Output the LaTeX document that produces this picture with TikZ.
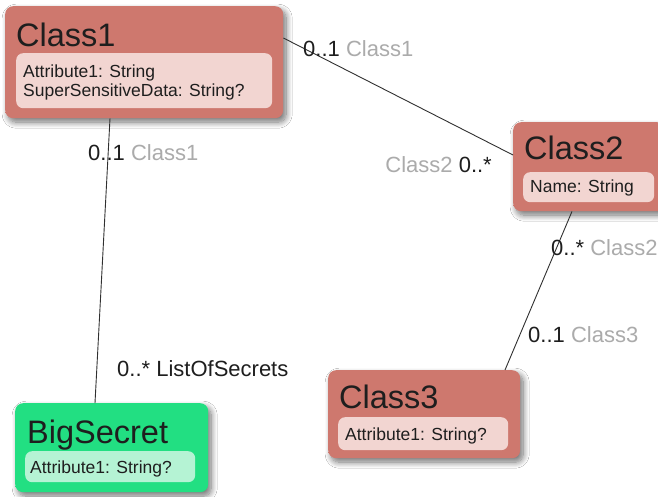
\documentclass[tikz,border=0pt]{standalone}
\usepackage{fontspec}
\setmainfont{Liberation Sans}
\usetikzlibrary{calc,shadows.blur}

\definecolor{clsred}{HTML}{CE786E}
\definecolor{clsredtop}{HTML}{F2A59B}
\definecolor{attrred}{HTML}{F2D5D1}
\definecolor{clsgreen}{HTML}{22DF82}
\definecolor{clsgreentop}{HTML}{45FFA5}
\definecolor{attrgreen}{HTML}{B5F3D4}
\definecolor{ink}{HTML}{1E1E1E}
\definecolor{rolegray}{HTML}{ABABAB}
\definecolor{linegray}{HTML}{303030}

% lighter rim along the top edge of a class box
\pgfdeclareverticalshading{redshade}{100bp}{color(0bp)=(clsred); color(93bp)=(clsred); color(100bp)=(clsredtop)}
\pgfdeclareverticalshading{greenshade}{100bp}{color(0bp)=(clsgreen); color(93bp)=(clsgreen); color(100bp)=(clsgreentop)}

\tikzset{
  box/.style={rectangle, draw=none, rounded corners=8pt, anchor=north west, inner sep=0pt,
    blur shadow={shadow xshift=3pt, shadow yshift=-4pt, shadow blur radius=6pt,
                 shadow blur steps=12, shadow opacity=55}},
  redbox/.style={box, shading=redshade},
  greenbox/.style={box, shading=greenshade},
  attrbox/.style={rectangle, rounded corners=7pt, anchor=north west, inner sep=0pt},
  redattr/.style={attrbox, fill=attrred},
  greenattr/.style={attrbox, fill=attrgreen},
  title/.style={anchor=base west, inner sep=0pt, font=\fontsize{32.5}{32.5}\selectfont, text=ink},
  attr/.style={anchor=base west, inner sep=0pt, font=\fontsize{17.5}{17.5}\selectfont, text=ink},
  mult/.style={inner sep=0pt, font=\fontsize{22}{22}\selectfont, text=ink},
  assoc/.style={draw=linegray, line width=0.9pt},
}

\begin{document}
\begin{tikzpicture}[x=1pt,y=-1pt]
\clip (0,0) rectangle (658,497);
\fill[white] (0,0) rectangle (658,497);

% Class1
\node[redbox, minimum width=278pt, minimum height=112pt] (c1) at (5,6) {};
\node[title] (c1t) at (16,47) {Class1};
\node[redattr, minimum width=256pt, minimum height=55pt] (c1a) at (16,53) {};
\node[attr] (c1x) at (23,78) {Attribute1: String};
\node[attr] (c1y) at (23,97) {SuperSensitiveData: String?};

% Class2
\node[redbox, minimum width=152pt, minimum height=89pt] (c2) at (513,122) {};
\node[title] (c2t) at (524,160) {Class2};
\node[redattr, minimum width=131pt, minimum height=30pt] (c2a) at (523,172) {};
\node[attr] (c2x) at (530,193) {Name: String};

% Class3
\node[redbox, minimum width=192pt, minimum height=88pt] (c3) at (328,370) {};
\node[title] (c3t) at (339,408) {Class3};
\node[redattr, minimum width=170pt, minimum height=33pt] (c3a) at (338,417) {};
\node[attr] (c3x) at (345,440) {Attribute1: String?};

% BigSecret
\node[greenbox, minimum width=193pt, minimum height=89pt] (bs) at (15,403) {};
\node[title] (bst) at (27,443) {BigSecret};
\node[greenattr, minimum width=170pt, minimum height=31pt] (bsa) at (25,451) {};
\node[attr] (bsx) at (30,473) {Attribute1: String?};

% associations
\draw[assoc] ($(c1.north east)+(0,32)$) -- ($(c2.north west)+(0,33)$);
\draw[assoc] ($(c1.south west)+(105,0)$) -- ($(bs.north west)+(80,0)$);
\draw[assoc] ($(c2.south west)+(59,0)$) -- ($(c3.north west)+(177,0)$);

% multiplicities and role names
\node[mult, anchor=base west] (l1) at (303,57) {0..1 \textcolor{rolegray}{Class1}};
\node[mult, anchor=base east] (l2) at (492,172) {\textcolor{rolegray}{Class2} 0..*};
\node[mult, anchor=base west] (l3) at (88,161) {0..1 \textcolor{rolegray}{Class1}};
\node[mult, anchor=base west] (l4) at (117,376) {0..* ListOfSecrets};
\node[mult, anchor=base west] (l5) at (551,255) {0..* \textcolor{rolegray}{Class2}};
\node[mult, anchor=base west] (l6) at (528,342) {0..1 \textcolor{rolegray}{Class3}};
\end{tikzpicture}
\end{document}
